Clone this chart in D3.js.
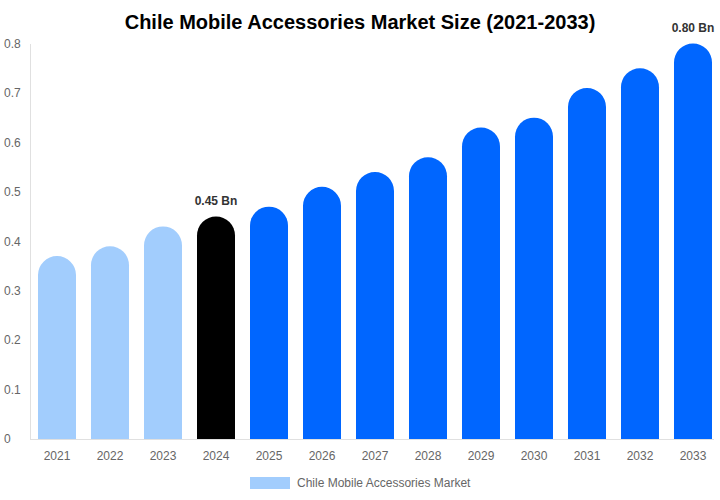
<!DOCTYPE html>
<html>
<head>
<meta charset="utf-8">
<script src="https://cdn.jsdelivr.net/npm/d3@7"></script>
<style>
  body { margin: 0; background: #fff; }
  svg text { font-family: "Liberation Sans", Arial, sans-serif; }
</style>
</head>
<body>
<div id="chart"></div>
<script>
// Chart data
const years = ["2021", "2022", "2023", "2024", "2025", "2026", "2027", "2028", "2029", "2030", "2031", "2032", "2033"];
const marketSize = [0.37, 0.39, 0.43, 0.45, 0.47, 0.51, 0.54, 0.57, 0.63, 0.65, 0.71, 0.75, 0.80];
const yTicks = [0, 0.1, 0.2, 0.3, 0.4, 0.5, 0.6, 0.7, 0.8];
const labelledYears = ["2024", "2033"];
const seriesName = "Chile Mobile Accessories Market";

const width = 720, height = 500;
const margin = { top: 43.5, right: 0, bottom: 61, left: 30 };

const svg = d3.select("#chart")
  .append("svg")
  .attr("width", width)
  .attr("height", height);

const x = d3.scaleBand()
  .domain(years)
  .range([margin.left, width - margin.right])
  .paddingInner(0.283)
  .paddingOuter(0.151);

const y = d3.scaleLinear()
  .domain([0, 0.8])
  .range([height - margin.bottom, margin.top]);

// colour: history light, base year black, forecast blue
function barColor(yr) {
  if (yr < "2024") return "#a2cdfd";
  if (yr === "2024") return "#000000";
  return "#0066ff";
}

// Title
svg.append("text")
  .attr("x", width / 2)
  .attr("y", 29)
  .attr("text-anchor", "middle")
  .attr("font-size", 20)
  .attr("font-weight", "bold")
  .attr("fill", "#000")
  .text("Chile Mobile Accessories Market Size (2021-2033)");

// Y axis
const yAxis = svg.append("g")
  .attr("transform", `translate(${margin.left},0)`)
  .call(d3.axisLeft(y).tickValues(yTicks).tickSize(0).tickPadding(12).tickFormat(d => d === 0 ? "0" : d3.format(".1f")(d)));
yAxis.select(".domain").attr("stroke", "#e0e0e0");
yAxis.selectAll("text").attr("font-size", 12).attr("fill", "#666").attr("text-anchor", "start").attr("x", -26);

// X axis
const xAxis = svg.append("g")
  .attr("transform", `translate(0,${y(0)})`)
  .call(d3.axisBottom(x).tickSize(0).tickPadding(12));
xAxis.select(".domain").attr("stroke", "#e0e0e0").attr("d", `M${margin.left},0.5H714`);
xAxis.selectAll("text").attr("font-size", 12).attr("fill", "#666");

// Bars with rounded tops
const r = x.bandwidth() / 2;
svg.append("g")
  .selectAll("path")
  .data(years.map((yr, i) => ({ yr, v: marketSize[i] })))
  .join("path")
  .attr("fill", d => barColor(d.yr))
  .attr("d", d => {
    const x0 = x(d.yr), x1 = x0 + x.bandwidth();
    const top = y(d.v), base = y(0);
    return `M${x0},${base}V${top + r}A${r},${r} 0 0 1 ${x1},${top + r}V${base}Z`;
  });

// Value labels
svg.append("g")
  .selectAll("text")
  .data(years.map((yr, i) => ({ yr, v: marketSize[i] })).filter(d => labelledYears.includes(d.yr)))
  .join("text")
  .attr("x", d => x(d.yr) + x.bandwidth() / 2)
  .attr("y", d => y(d.v) - 12)
  .attr("text-anchor", "middle")
  .attr("font-size", 12)
  .attr("font-weight", "bold")
  .attr("fill", "#333")
  .text(d => d3.format(".2f")(d.v) + " Bn");

// Legend
const legend = svg.append("g").attr("transform", "translate(250,477)");
legend.append("rect")
  .attr("width", 40)
  .attr("height", 12)
  .attr("fill", "#a2cdfd");
legend.append("text")
  .attr("x", 47)
  .attr("y", 10)
  .attr("font-size", 12)
  .attr("fill", "#666")
  .text(seriesName);
</script>
</body>
</html>
